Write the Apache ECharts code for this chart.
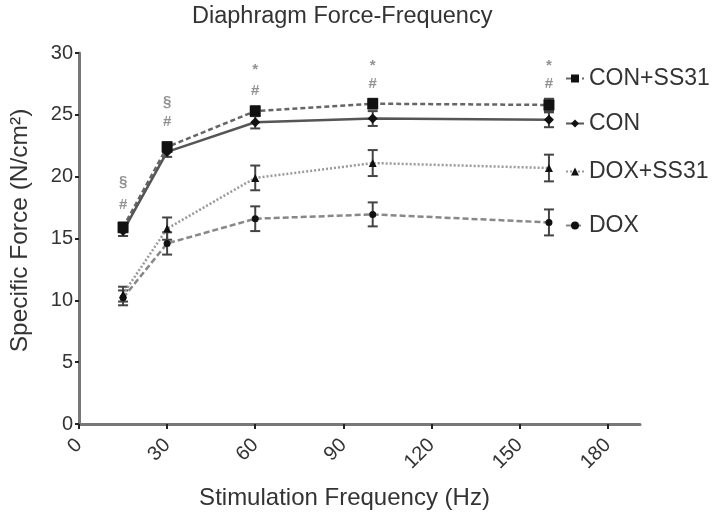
<!DOCTYPE html>
<html>
<head>
<meta charset="utf-8">
<script src="https://cdn.jsdelivr.net/npm/echarts@6/dist/echarts.min.js"></script>
<style>
  html, body { margin: 0; padding: 0; background: #fff; }
  #chart { width: 714px; height: 519px; }
</style>
</head>
<body>
<div id="chart"></div>
<script>
// 刺激频率 (Hz)
var freqs = [15, 30, 60, 100, 160];
var xTicks = [0, 30, 60, 90, 120, 150, 180];

// 各组均值和误差
var conSs31 = [15.9, 22.4, 25.3, 25.9, 25.8];
var conSs31Err = [0.4, 0.4, 0.4, 0.4, 0.5];
var con = [15.6, 22.0, 24.4, 24.7, 24.6];
var conErr = [0.4, 0.4, 0.5, 0.6, 0.6];
var doxSs31 = [10.5, 15.8, 19.9, 21.1, 20.7];
var doxSs31Err = [0.6, 0.9, 1.0, 1.05, 1.08];
var dox = [10.2, 14.6, 16.6, 16.95, 16.3];
var doxErr = [0.6, 0.9, 1.0, 0.97, 1.05];

// 显著性标记
var markFreqs = [15, 15, 30, 30, 60, 60, 100, 100, 160, 160];
var markLevels = [19.6, 17.7, 26.05, 24.4, 28.6, 26.9, 29.0, 27.5, 29.0, 27.5];
var markTexts = ['§', '#', '§', '#', '*', '#', '*', '#', '*', '#'];

var groups = [
    { name: 'CON+SS31', mean: conSs31, err: conSs31Err, symbol: 'rect', size: 11, color: '#666', type: [5, 3] },
    { name: 'CON', mean: con, err: conErr, symbol: 'diamond', size: 10, color: '#555', type: 'solid' },
    { name: 'DOX+SS31', mean: doxSs31, err: doxSs31Err, symbol: 'triangle', size: 8, color: '#9a9a9a', type: [2, 2] },
    { name: 'DOX', mean: dox, err: doxErr, symbol: 'circle', size: 7, color: '#888', type: [6, 3] }
];
var legendTops = [62, 107, 155, 209];

function initChart() {
    var myChart = echarts.init(document.getElementById('chart'));
    var font = 'Liberation Sans, Arial, sans-serif';
    var series = [];
    var legends = [];

    groups.forEach(function (g, i) {
        series.push({
            name: g.name,
            type: 'line',
            data: freqs.map(function (f, k) { return [f, g.mean[k]]; }),
            symbol: g.symbol,
            symbolSize: g.size,
            itemStyle: { color: '#111' },
            lineStyle: { color: g.color, width: 2.5, type: g.type },
            z: 3
        });
        // 误差线
        series.push({
            type: 'custom',
            data: freqs.map(function (f, k) { return [f, g.mean[k] - g.err[k], g.mean[k] + g.err[k]]; }),
            renderItem: function (params, api) {
                var lo = api.coord([api.value(0), api.value(1)]);
                var hi = api.coord([api.value(0), api.value(2)]);
                var w = 5;
                var st = { stroke: '#444', lineWidth: 2 };
                return {
                    type: 'group',
                    children: [
                        { type: 'line', shape: { x1: lo[0], y1: lo[1], x2: hi[0], y2: hi[1] }, style: st },
                        { type: 'line', shape: { x1: lo[0] - w, y1: lo[1], x2: lo[0] + w, y2: lo[1] }, style: st },
                        { type: 'line', shape: { x1: hi[0] - w, y1: hi[1], x2: hi[0] + w, y2: hi[1] }, style: st }
                    ]
                };
            },
            encode: { x: 0, y: [1, 2] },
            silent: true,
            z: 2
        });
        legends.push({
            data: [g.name],
            left: 560,
            top: legendTops[i],
            itemWidth: 18,
            itemHeight: 10,
            itemGap: 4,
            textStyle: { fontSize: 23, color: '#333', fontFamily: font },
            selectedMode: false
        });
    });

    series.push({
        type: 'scatter',
        data: markFreqs.map(function (f, k) { return { value: [f, markLevels[k]], name: markTexts[k] }; }),
        symbolSize: 0,
        label: {
            show: true,
            position: 'inside',
            formatter: '{b}',
            fontSize: 15,
            fontWeight: 'bold',
            color: '#777',
            fontFamily: font
        },
        silent: true,
        z: 4
    });

    var option = {
        animation: false,
        title: {
            text: 'Diaphragm Force-Frequency',
            left: 187,
            top: 0,
            textStyle: { fontSize: 23.5, fontWeight: 'normal', color: '#333', fontFamily: font }
        },
        legend: legends,
        grid: { left: 77, right: 74, top: 53, bottom: 95 },
        xAxis: {
            type: 'value',
            min: 0,
            max: 191,
            name: 'Stimulation Frequency (Hz)',
            nameLocation: 'middle',
            nameGap: 62,
            nameTextStyle: { fontSize: 24, color: '#333', fontFamily: font, padding: [0, 30, 0, 0] },
            splitLine: { show: false },
            axisLine: { lineStyle: { color: '#777', width: 3 } },
            axisTick: { customValues: xTicks, length: 5, lineStyle: { color: '#222', width: 2 } },
            axisLabel: {
                customValues: xTicks,
                rotate: 45,
                margin: 18,
                fontSize: 20,
                color: '#333',
                fontFamily: font
            }
        },
        yAxis: {
            type: 'value',
            min: 0,
            max: 30,
            interval: 5,
            name: 'Specific Force (N/cm²)',
            nameLocation: 'middle',
            nameGap: 46,
            nameTextStyle: { fontSize: 24.5, color: '#333', fontFamily: font, padding: [0, 0, 0, 16] },
            splitLine: { show: false },
            axisLine: { show: true, lineStyle: { color: '#777', width: 3 } },
            axisTick: { show: true, length: 4, lineStyle: { color: '#222', width: 2 } },
            axisLabel: { fontSize: 20, color: '#333', margin: 6, fontFamily: font }
        },
        series: series
    };

    myChart.setOption(option);
}

window.addEventListener('load', initChart);
</script>
</body>
</html>
